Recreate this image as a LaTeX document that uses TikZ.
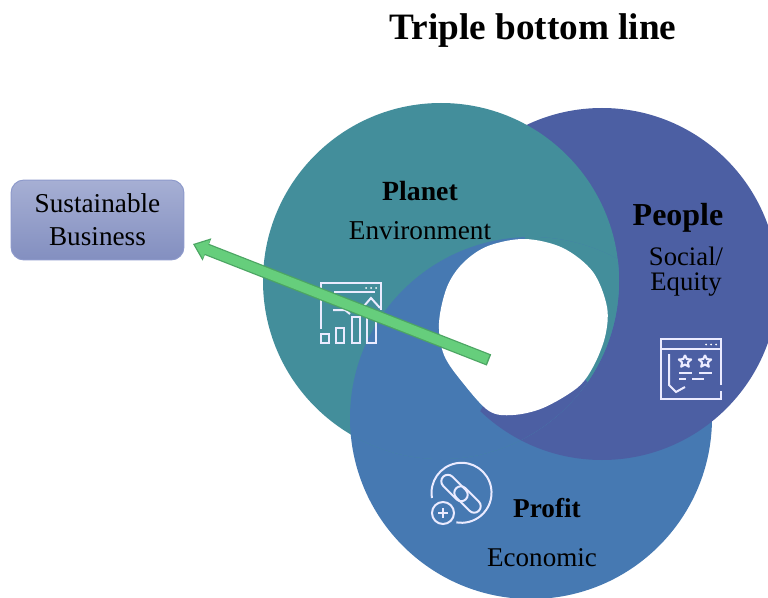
\documentclass[tikz,border=0pt]{standalone}
\usepackage{xcolor}
\usepackage{fontspec}
\setmainfont{Liberation Serif}
\usepackage{tikz}
\usetikzlibrary{arrows.meta,positioning,calc}
\definecolor{planetcol}{HTML}{438E9B}
\definecolor{peoplecol}{HTML}{4C5FA3}
\definecolor{profitcol}{HTML}{4679B2}
\definecolor{arrowfill}{HTML}{66CE7C}
\definecolor{arrowedge}{HTML}{4CA563}
\definecolor{boxtop}{HTML}{A6AFD4}
\definecolor{boxbottom}{HTML}{838FC0}
\definecolor{boxedge}{HTML}{8E9ACB}
\tikzset{
  icon/.style={draw=white!92!blue,line width=0.04cm},
  label/.style={inner sep=0pt,align=center,text=black},
  bizbox/.style={draw=boxedge,line width=0.02cm,rounded corners=0.26cm,top color=boxtop,bottom color=boxbottom,minimum width=3.46cm,minimum height=1.6cm,inner sep=0pt,align=center,font=\fontsize{15.5}{18.8}\selectfont}
}
\begin{document}
\begin{tikzpicture}[x=0.02cm,y=-0.02cm]
\useasboundingbox (0,0) rectangle (768,598);
\clip (0,0) rectangle (768,598);
% Three circles, each one over the next
\fill[profitcol] (531,418) circle (181);
\fill[peoplecol] (602,284) circle (176);
\fill[planetcol] (441,281) circle (178);
\begin{scope}
\clip (441,281) circle (178);
\fill[profitcol] (531,418) circle (181);
\clip (531,418) circle (181);
\clip (602,284) circle (176);
% Where all three meet
\fill[planetcol] (525,250) -- (525,200) -- (700,200) -- (700,350) -- (588,383) -- cycle;
\fill[peoplecol] (530,320) -- (588,383) -- (700,350) -- (700,500) -- (470,430) -- cycle;
\end{scope}
% Hole in the middle
\fill[white] plot[smooth cycle,tension=0.55] coordinates {(525,239) (563,248) (593,272) (607,307) (605,337) (593,367) (577,388) (543,408) (513,415) (489,411) (463,383) (444,355) (439,323) (447,287) (463,263) (488,246)};
% Planet icon
\draw[icon] (321,329) -- (321,283) -- (381,283) -- (381,310);
\draw[icon] (334,292) -- (375,292);
\draw[icon] (321,334) rectangle (329,343);
\draw[icon] (336,328) rectangle (344,343);
\draw[icon] (352,317) rectangle (360,343);
\draw[icon] (367,318) rectangle (376,343);
\draw[icon] (364,306) -- (371,298) -- (380,308);
\draw[icon] (333,310) -- (345,310) -- (350,314);
\foreach \px in {366,371,376} \fill[white] (\px,288) circle (1);
% People icon
\draw[icon] (721,385) -- (721,339) -- (661,339) -- (661,399) -- (721,399) -- (721,391);
\draw[icon] (661,349) -- (721,349);
\draw[icon] (669,354) -- (669,385) -- (676,392) -- (685,387);
\foreach \px in {706,711,716} \fill[white] (\px,344.5) circle (1);
\foreach \sx in {685,705}
  \draw[icon,line join=round] plot[samples=11,domain=0:360] ({\sx+(mod(round(\x/36),2)==0?6.5:3)*sin(\x)},{361.5-(mod(round(\x/36),2)==0?6.5:3)*cos(\x)});
\draw[icon] (679,372.5) -- (692,372.5) (699,372.5) -- (712,372.5);
\draw[icon] (679,379) -- (686,379) (692,379) -- (704,379);
% Profit icon
\draw[icon] (432,498) arc[start angle=170,delta angle=290,radius=30];
\draw[icon] (443,513) circle (11);
\draw[icon] (438,513) -- (448,513) (443,508) -- (443,518);
\draw[icon,rotate around={-45:(454.5,488)},rounded corners=0.13cm] (438.5,481.5) rectangle (470.5,494.5);
\draw[icon,rotate around={-45:(467.5,499.5)},rounded corners=0.13cm] (451.5,493) rectangle (483.5,506);
% Labels
\node[label,font=\fontsize{21.2}{24}\selectfont\bfseries] (title) at (533,31) {Triple bottom line};
\node[label,font=\fontsize{15.8}{18}\selectfont\bfseries] (planet) at (420,191) {Planet};
\node[label,font=\fontsize{15.5}{18}\selectfont] (env) at (420,231) {Environment};
\node[label,font=\fontsize{18.2}{20}\selectfont\bfseries] (people) at (678,218) {People};
\node[label,font=\fontsize{15.2}{14.3}\selectfont] (social) at (686,272) {Social/\\Equity};
\node[label,font=\fontsize{15.5}{18}\selectfont\bfseries] (profit) at (547,508) {Profit};
\node[label,font=\fontsize{15.4}{18}\selectfont] (econ) at (542,558) {Economic};
\node[bizbox] (biz) at (97.5,220) {Sustainable\\Business};
% Arrow to the box
\coordinate (arrowtail) at (489,360);
\coordinate (arrowhead) at (193,244);
\draw[arrowedge,line width=0.24cm,-{Triangle[length=0.3cm,width=0.46cm]}] (arrowtail) -- (arrowhead);
\draw[arrowfill,line width=0.19cm,shorten <=0.03cm,shorten >=0.04cm,-{Triangle[length=0.25cm,width=0.38cm]}] (arrowtail) -- (arrowhead);
\end{tikzpicture}
\end{document}
